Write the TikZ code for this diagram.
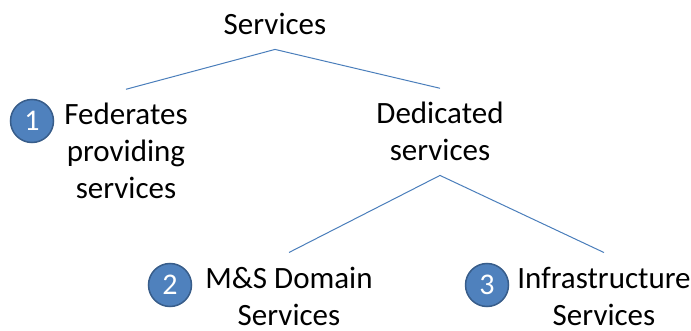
\documentclass[tikz,border=0pt]{standalone}
\usepackage{fontspec}
\setmainfont{Carlito}

\definecolor{numfill}{HTML}{4F81BD}
\definecolor{numline}{HTML}{385D8A}
\definecolor{treeline}{HTML}{4A7EBB}

\begin{document}
\begin{tikzpicture}[x=1pt, y=-1pt,
	every node/.style={font=\fontsize{31}{37}\selectfont},
	textnode/.style={align=center, inner sep=0pt, anchor=base},
	numdisc/.style={circle, fill=numfill, draw=numline, line width=1.5pt, text=white,
		minimum size=43pt, inner sep=0pt, font=\fontsize{30}{30}\selectfont},
	branch/.style={draw=treeline, line width=1pt}]
	
	% frame of the picture
	\useasboundingbox (0,0) rectangle (691,331);
	
	% gap between a text and its branch
	\def\gap{14pt}
	
	% tree labels (placed at the baseline of their last line)
	\node[textnode] (services) at (275,35) {Services};
	\node[textnode] (federates) at (126,199) {Federates\\providing\\services};
	\node[textnode] (dedicated) at (440,161) {Dedicated\\services};
	\node[textnode] (domain) at (289,325) {M\&S Domain\\Services};
	\node[textnode] (infra) at (604,325) {Infrastructure\\Services};
	
	% numbered discs
	\node[numdisc] (one) at (32,121) {1};
	\node[numdisc] (two) at (170,285) {2};
	\node[numdisc] (three) at (487,285) {3};
	
	% branch ends
	\coordinate (servicesfoot) at ([yshift=-\gap]services.south);
	\coordinate (federateshead) at ([yshift=\gap]federates.north);
	\coordinate (dedicatedhead) at ([yshift=\gap]dedicated.north);
	\coordinate (dedicatedfoot) at ([yshift=-\gap]dedicated.south);
	\coordinate (domainhead) at ([yshift=\gap]domain.north);
	\coordinate (infrahead) at ([yshift=\gap]infra.north);
	
	% branches
	\draw[branch] (federateshead) -- (servicesfoot) -- (dedicatedhead);
	\draw[branch] (domainhead) -- (dedicatedfoot) -- (infrahead);
\end{tikzpicture}
\end{document}
